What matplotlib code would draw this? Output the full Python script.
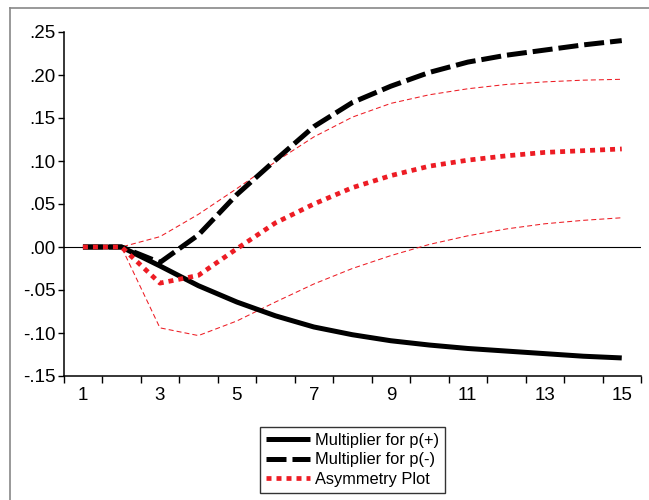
import matplotlib
matplotlib.use('Agg')
import matplotlib.pyplot as plt
from matplotlib.lines import Line2D
from matplotlib.ticker import FuncFormatter

plt.rcParams['font.family'] = ['Liberation Sans', 'DejaVu Sans']
plt.rcParams['lines.scale_dashes'] = False

periods = list(range(1, 16))
p_plus = [0, 0, -0.022, -0.045, -0.064, -0.080, -0.093, -0.102, -0.109,
          -0.114, -0.118, -0.121, -0.124, -0.127, -0.129]
p_minus = [0, 0, -0.018, 0.014, 0.061, 0.101, 0.140, 0.168, 0.187,
           0.203, 0.215, 0.223, 0.229, 0.235, 0.240]
asym = [0, 0, -0.042, -0.033, -0.002, 0.028, 0.050, 0.069, 0.083,
        0.094, 0.101, 0.106, 0.110, 0.112, 0.114]
upper = [0, 0, 0.012, 0.038, 0.068, 0.099, 0.128, 0.151, 0.167,
         0.177, 0.184, 0.189, 0.192, 0.194, 0.195]
lower = [0, 0, -0.094, -0.103, -0.086, -0.064, -0.043, -0.025, -0.010,
         0.003, 0.013, 0.021, 0.027, 0.031, 0.034]

legend_labels = ['Multiplier for p(+)', 'Multiplier for p(-)', 'Asymmetry Plot']
red = '#ED1C24'

fig = plt.figure(figsize=(6.49, 5), dpi=100)
ax = fig.add_axes([63.7 / 649, 124 / 500, (641 - 63.7) / 649, 344 / 500])

ax.axhline(0, color='black', lw=0.8, zorder=1)
ax.plot(periods, upper, color=red, lw=0.75, dashes=(3.6, 2.2), zorder=2)
ax.plot(periods, lower, color=red, lw=0.75, dashes=(3.6, 2.2), zorder=2)
l2, = ax.plot(periods, p_minus, color='black', lw=3.6, dashes=(14.4, 4.3),
              dash_capstyle='butt', zorder=3)
l1, = ax.plot(periods, p_plus, color='black', lw=3.6, solid_capstyle='butt', zorder=4)
l3, = ax.plot(periods, asym, color=red, lw=3.4, dashes=(3.6, 3.6),
              dash_capstyle='butt', zorder=5)

ax.set_xlim(0.5, 15.5)
ax.set_ylim(-0.15, 0.25)
for s in ['top', 'right']:
    ax.spines[s].set_visible(False)
for s in ['left', 'bottom']:
    ax.spines[s].set_linewidth(1.1)

ax.set_yticks([-0.15, -0.10, -0.05, 0.0, 0.05, 0.10, 0.15, 0.20, 0.25])
ax.yaxis.set_major_formatter(FuncFormatter(
    lambda v, p: ('-' if v < -1e-9 else '') + ('%.2f' % abs(v))[1:]))
ax.tick_params(axis='y', direction='out', length=4.3, width=1, pad=1.5,
               labelsize=13.5)

ax.set_xticks([i + 0.5 for i in range(0, 16)])
ax.set_xticklabels([])
ax.set_xticks(list(range(1, 16, 2)), minor=True)
ax.set_xticklabels([str(i) for i in range(1, 16, 2)], minor=True)
ax.tick_params(axis='x', which='major', direction='out', length=5, width=1)
ax.tick_params(axis='x', which='minor', length=0, pad=8, labelsize=13.5)

leg = fig.legend([l1, l2, l3], legend_labels, loc='upper left',
                 bbox_to_anchor=(260 / 649, 1 - 427 / 500), fontsize=11.8,
                 frameon=True, fancybox=False, handlelength=2.7,
                 handletextpad=0.3, labelspacing=0.28, borderpad=0.35,
                 borderaxespad=0)
leg.get_frame().set_edgecolor('black')
leg.get_frame().set_linewidth(1.0)

fig.add_artist(Line2D([10 / 649, 1], [1 - 8 / 500, 1 - 8 / 500],
                      color='#888888', lw=1.2, transform=fig.transFigure))
fig.add_artist(Line2D([10 / 649, 10 / 649], [0, 1 - 8 / 500],
                      color='#888888', lw=1.2, transform=fig.transFigure))

fig.savefig('out.png', dpi=100)
